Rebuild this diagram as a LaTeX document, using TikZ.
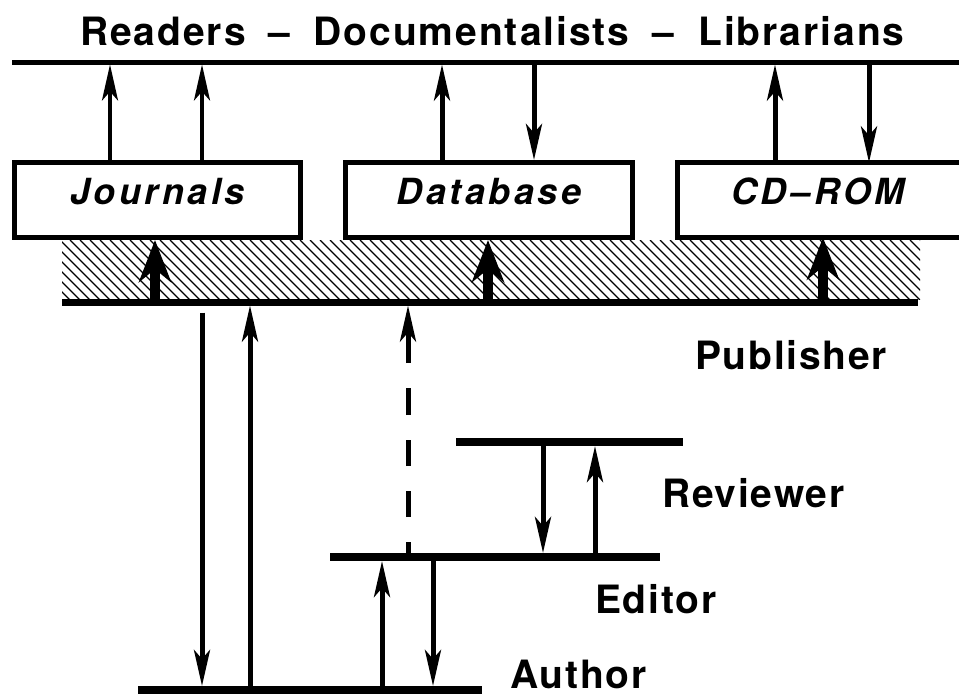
\documentclass[tikz,border=0pt]{standalone}
\usepackage{fontspec}
\setmainfont{TeX Gyre Heros}
\newfontfamily\tagfont[LetterSpace=4.5]{TeX Gyre Heros}
\newfontfamily\headfont[LetterSpace=5]{TeX Gyre Heros}
\newfontfamily\mediafont[LetterSpace=10]{TeX Gyre Heros}
\usetikzlibrary{arrows.meta,calc}

\tikzset{
  bar/.style={fill=black, inner sep=0pt, outer sep=0pt, minimum height=#1},
  boxline/.style={line width=5pt},
  media/.style={draw, boxline, inner sep=0pt, minimum height=75pt,
    text height=41.5pt, text depth=33.5pt,
    font=\mediafont\bfseries\itshape\fontsize{36}{36}\selectfont},
  tag/.style={inner sep=0pt, anchor=base west,
    font=\tagfont\bfseries\fontsize{39}{39}\selectfont},
  heading/.style={tag, font=\headfont\bfseries\fontsize{39}{39}\selectfont},
  arr/.style={line width=5pt, -{Stealth[length=36pt,width=16pt,inset=9pt]}},
  thinarr/.style={arr, line width=4pt},
  fatarr/.style={line width=10pt, -{Stealth[length=42pt,width=32pt,inset=13pt]}},
  hatchline/.style={line width=1.1pt}
}

\begin{document}
\begin{tikzpicture}[x=1pt,y=-1pt]
\clip (0,0) rectangle (959,697);
\fill[white] (0,0) rectangle (959,697);

% heading
\node[heading] (title) at (80,45)
  {Readers\hspace{23pt}–\hspace{23pt}Documentalists\hspace{23pt}–\hspace{24pt}Librarians};

% horizontal levels
\node[bar=5pt, minimum width=963pt] (readers) at (493.5,62) {};
\node[bar=7pt, minimum width=856pt] (publisher) at (490,302) {};
\node[bar=8pt, minimum width=227pt] (reviewer) at (569.5,442) {};
\node[bar=8pt, minimum width=330pt] (editor) at (495,557) {};
\node[bar=8pt, minimum width=344pt] (author) at (310,690) {};

% hatched publishing band
\begin{scope}
  \clip (62,240) rectangle (920,299);
  \foreach \x in {-70,-60,...,920} \draw[hatchline] (\x,240) -- ++(70,70);
\end{scope}

% media boxes
\node[media, minimum width=286pt] (journals) at (157.5,200) {Journals};
\node[media, minimum width=287pt] (database) at (489,200) {Database};
\node[media, draw=none, outer sep=0pt, minimum width=281pt] (cdrom) at (818,200) {CD–ROM};
\draw[boxline] ($(cdrom.north east)+(20,0)$) -- (cdrom.north west)
  -- (cdrom.south west) -- ($(cdrom.south east)+(20,0)$);

% level labels
\node[tag] (publab) at (695,369) {Publisher};
\node[tag] (revlab) at (662,507) {Reviewer};
\node[tag] (edlab) at (595,613) {Editor};
\node[tag] (autlab) at (510,688) {Author};

% connector columns
\coordinate (cj1) at (110,0);
\coordinate (cj2) at (202,0);
\coordinate (cd1) at (442,0);
\coordinate (cd2) at (534,0);
\coordinate (cc1) at (775,0);
\coordinate (cc2) at (869,0);
\coordinate (fj) at (155,0);
\coordinate (fd) at (488,0);
\coordinate (fc) at (823,0);
\coordinate (pa1) at (202,0);
\coordinate (pa2) at (250,0);
\coordinate (ep) at (408,0);
\coordinate (ae1) at (382,0);
\coordinate (ae2) at (433,0);
\coordinate (re1) at (543,0);
\coordinate (re2) at (595,0);

% media to readers
\draw[thinarr] (journals.north -| cj1) -- (readers.south -| cj1);
\draw[thinarr] (journals.north -| cj2) -- (readers.south -| cj2);
\draw[arr] (database.north -| cd1) -- (readers.south -| cd1);
\draw[arr] (readers.south -| cd2) -- (database.north -| cd2);
\draw[arr] (cdrom.north -| cc1) -- (readers.south -| cc1);
\draw[arr] (readers.south -| cc2) -- (cdrom.north -| cc2);

% publisher to media
\draw[fatarr] (publisher.north -| fj) -- (journals.south -| fj);
\draw[fatarr] (publisher.north -| fd) -- (database.south -| fd);
\draw[fatarr] (publisher.north -| fc) -- (cdrom.south -| fc);

% publisher and author
\draw[arr, shorten <=7pt] (publisher.south -| pa1) -- (author.north -| pa1);
\draw[arr] (author.north -| pa2) -- (publisher.south -| pa2);

% editor to publisher (dashed)
\draw[arr, dash pattern=on 11pt off 25pt on 26pt off 25pt on 26pt off 25pt on 27pt off 25pt on 200pt]
  (editor.north -| ep) -- (publisher.south -| ep);

% author and editor
\draw[arr] (author.north -| ae1) -- (editor.south -| ae1);
\draw[arr] (editor.south -| ae2) -- (author.north -| ae2);

% reviewer and editor
\draw[arr] (reviewer.south -| re1) -- (editor.north -| re1);
\draw[arr] (editor.north -| re2) -- (reviewer.south -| re2);
\end{tikzpicture}
\end{document}
